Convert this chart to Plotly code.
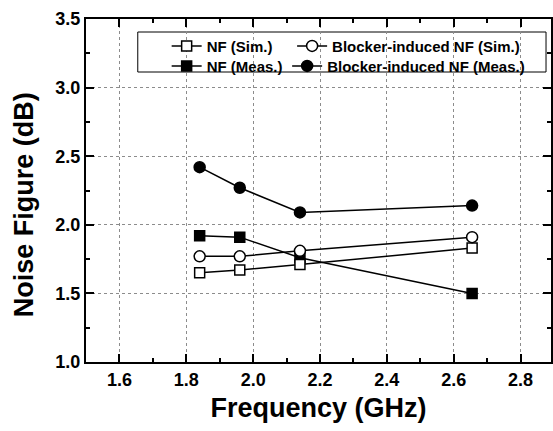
import plotly.graph_objects as go

# ---- data ----
freq_ghz = [1.84, 1.96, 2.14, 2.655]
nf_sim = [1.65, 1.67, 1.71, 1.83]
blocker_nf_sim = [1.77, 1.77, 1.81, 1.91]
nf_meas = [1.92, 1.91, 1.76, 1.50]
blocker_nf_meas = [2.42, 2.27, 2.09, 2.14]

x_ticks = [1.6, 1.8, 2.0, 2.2, 2.4, 2.6, 2.8]
y_ticks = [1.0, 1.5, 2.0, 2.5, 3.0, 3.5]

FONT = "Liberation Sans, Arial, sans-serif"

fig = go.Figure()


def add(name, y, symbol, filled, legend, size):
    fig.add_trace(go.Scatter(
        x=freq_ghz, y=y, mode="lines+markers", name=name,
        legend=legend, showlegend=True,
        line=dict(color="black", width=1.5),
        marker=dict(symbol=symbol, size=size,
                    color="black" if filled else "white",
                    line=dict(color="black", width=1.5)),
    ))


# measured first so the simulated (open) markers sit on top
add("NF (Meas.)", nf_meas, "square", True, "legend3", 10)
add("Blocker-induced NF (Meas.)", blocker_nf_meas, "circle", True, "legend4", 11)
add("NF (Sim.)", nf_sim, "square", False, "legend", 10)
add("Blocker-induced NF (Sim.)", blocker_nf_sim, "circle", False, "legend2", 11)

axis_common = dict(
    showline=True, linewidth=2, linecolor="black", mirror="allticks",
    ticks="inside", ticklen=8, tickwidth=2, tickcolor="black",
    showgrid=True, gridcolor="#8c8c8c", gridwidth=1, griddash="3px,3px",
    zeroline=False, tickformat=".1f",
    tickfont=dict(family=FONT, size=18, color="black", weight="bold"),
)

legend_font = dict(family=FONT, size=15, color="black", weight="bold")


def leg(x_px, top_px):
    return dict(x=(x_px - 86) / 467, y=(362 - top_px) / 343,
                xanchor="left", yanchor="top", orientation="v",
                bgcolor="rgba(0,0,0,0)", borderwidth=0, font=legend_font,
                visible=True)


fig.update_layout(
    width=553, height=431,
    showlegend=True,
    margin=dict(l=86, r=0, t=19, b=69),
    plot_bgcolor="white", paper_bgcolor="white",
    font=dict(family=FONT, color="black"),
    xaxis=dict(
        range=[1.5, 2.891], tickvals=x_ticks,
        minor=dict(dtick=0.1, ticks="inside", ticklen=4, tickwidth=2,
                   tickcolor="black", showgrid=False),
        title=dict(text="Frequency (GHz)", standoff=10,
                   font=dict(family=FONT, size=27, color="black", weight="bold")),
        **axis_common,
    ),
    yaxis=dict(
        range=[1.0, 3.5], tickvals=y_ticks,
        minor=dict(dtick=0.25, ticks="inside", ticklen=4, tickwidth=2,
                   tickcolor="black", showgrid=False),
        **axis_common,
    ),
    legend=leg(167, 29.7),
    legend2=leg(293, 29.7),
    legend3=leg(167, 49.7),
    legend4=leg(288, 49.7),
    shapes=[dict(type="rect", xref="paper", yref="paper",
                 x0=(138 - 86) / 467, x1=(548 - 86) / 467,
                 y0=(362 - 72) / 343, y1=(362 - 32) / 343,
                 line=dict(color="black", width=1), fillcolor="white",
                 layer="between")],
    annotations=[dict(text="Noise Figure (dB)", xref="paper", yref="paper",
                      x=(24 - 86) / 467, y=(362 - 205) / 343,
                      xanchor="center", yanchor="middle", textangle=-90,
                      showarrow=False,
                      font=dict(family=FONT, size=27, color="black", weight="bold"))],
)

fig.write_html("out.html")
